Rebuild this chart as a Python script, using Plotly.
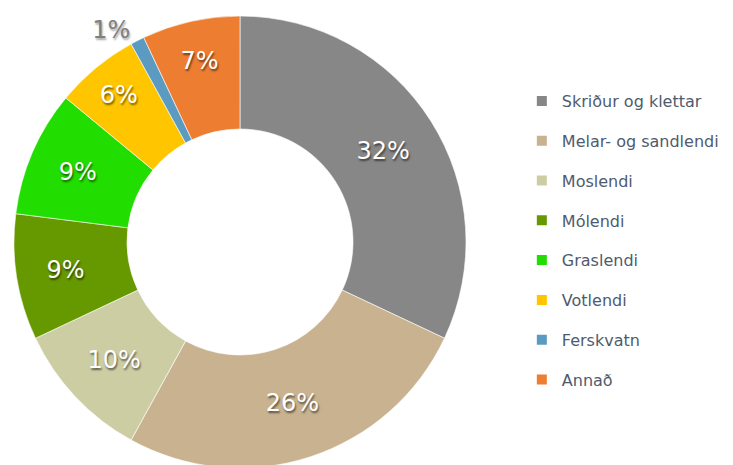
import plotly.graph_objects as go

labels = ["Skriður og klettar", "Melar- og sandlendi", "Moslendi", "Mólendi",
          "Graslendi", "Votlendi", "Ferskvatn", "Annað"]
values = [32, 26, 10, 9, 9, 6, 1, 7]
colors = ["#878787", "#C8B290", "#CDCDA4", "#669900",
          "#22DD00", "#FFC600", "#5B9BC1", "#ED7D31"]
text_pos = ["inside", "inside", "inside", "inside", "inside", "inside", "outside", "inside"]

FONT = "DejaVu Sans"

fig = go.Figure()
fig.add_trace(go.Pie(
    labels=labels, values=values, hole=0.5, sort=False, direction="clockwise",
    rotation=0,
    marker=dict(colors=colors, line=dict(color="white", width=0.6)),
    texttemplate="%{percent:.0%}",
    textposition=text_pos,
    insidetextorientation="horizontal",
    insidetextfont=dict(family=FONT, size=24, color="white",
                        shadow="1px 2px 2px rgba(0,0,0,0.55)"),
    outsidetextfont=dict(family=FONT, size=24, color="#7F7F7F",
                         shadow="1px 2px 2px rgba(0,0,0,0.35)"),
    showlegend=False,
    domain=dict(x=[0, 1], y=[0, 1]),
    hoverinfo="label+percent",
))

# Legend proxies (one per category, so spacing can be set with tracegroupgap)
for lab, col in zip(labels, colors):
    fig.add_trace(go.Scatter(
        x=[None], y=[None], mode="markers", name=lab,
        marker=dict(symbol="square", size=10, color=col),
        legendgroup=lab, showlegend=True,
    ))

fig.update_layout(
    width=733, height=465,
    margin=dict(l=1, r=274, t=8, b=0),
    paper_bgcolor="white", plot_bgcolor="white",
    font=dict(family=FONT),
    xaxis=dict(visible=False, domain=[0.9, 1]),
    yaxis=dict(visible=False, domain=[0.9, 1]),
    legend=dict(
        xref="container", yref="container",
        x=0.701, xanchor="left", y=0.8366, yanchor="top",
        font=dict(family=FONT, size=16, color="#4E5B6E"),
        tracegroupgap=16, itemwidth=30, maxheight=420,
        bgcolor="rgba(0,0,0,0)",
    ),
)

fig.write_html("out.html")
